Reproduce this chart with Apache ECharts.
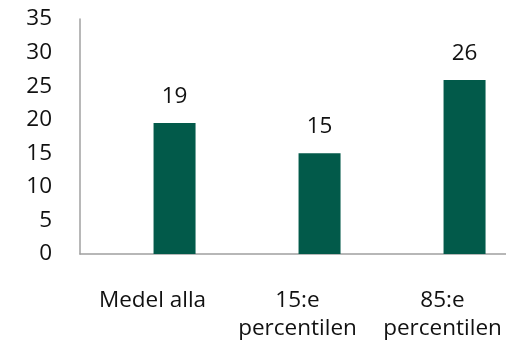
<!DOCTYPE html>
<html><head><meta charset="utf-8">
<script src="https://cdn.jsdelivr.net/npm/echarts@6/dist/echarts.min.js"></script>
<style>html,body{margin:0;padding:0;background:#fff;overflow:hidden;width:506px;height:348px}#c{width:515px;height:348px}</style>
</head><body><div id="c"></div>
<script>
const categories = ['Medel alla', '15:e\npercentilen', '85:e\npercentilen'];
const values = [19.5, 15.0, 25.9];
const labels = ['19', '15', '26'];
const yTicks = [0, 5, 10, 15, 20, 25, 30, 35];

const FONT = '"Open Sans", sans-serif';
const chart = echarts.init(document.getElementById('c'), null, {renderer: 'canvas'});
chart.setOption({
  animation: false,
  grid: {left: 80, top: 19, right: 0, bottom: 94, containLabel: false},
  xAxis: {
    type: 'category', data: categories,
    axisLine: {show: true, lineStyle: {color: '#a0a0a0', width: 1.5}},
    axisTick: {show: false},
    axisLabel: {fontFamily: FONT, fontSize: 22.5, color: '#111', margin: 33, lineHeight: 28, interval: 0}
  },
  yAxis: {
    type: 'value', min: yTicks[0], max: yTicks[yTicks.length - 1], interval: 5,
    axisLine: {show: true, lineStyle: {color: '#a0a0a0', width: 1.5}},
    axisTick: {show: false},
    splitLine: {show: false},
    axisLabel: {fontFamily: FONT, fontSize: 22.5, color: '#111', margin: 28}
  },
  series: [
    {type: 'bar', data: values.map(() => null), barWidth: 42, barGap: '5%'},
    {type: 'bar', data: values, barWidth: 42, barGap: '5%',
     itemStyle: {color: '#025a4a'},
     label: {show: true, position: 'top', distance: 15, fontFamily: FONT, fontSize: 22.5, color: '#111',
       formatter: p => labels[p.dataIndex]}}
  ]
});
</script></body></html>
